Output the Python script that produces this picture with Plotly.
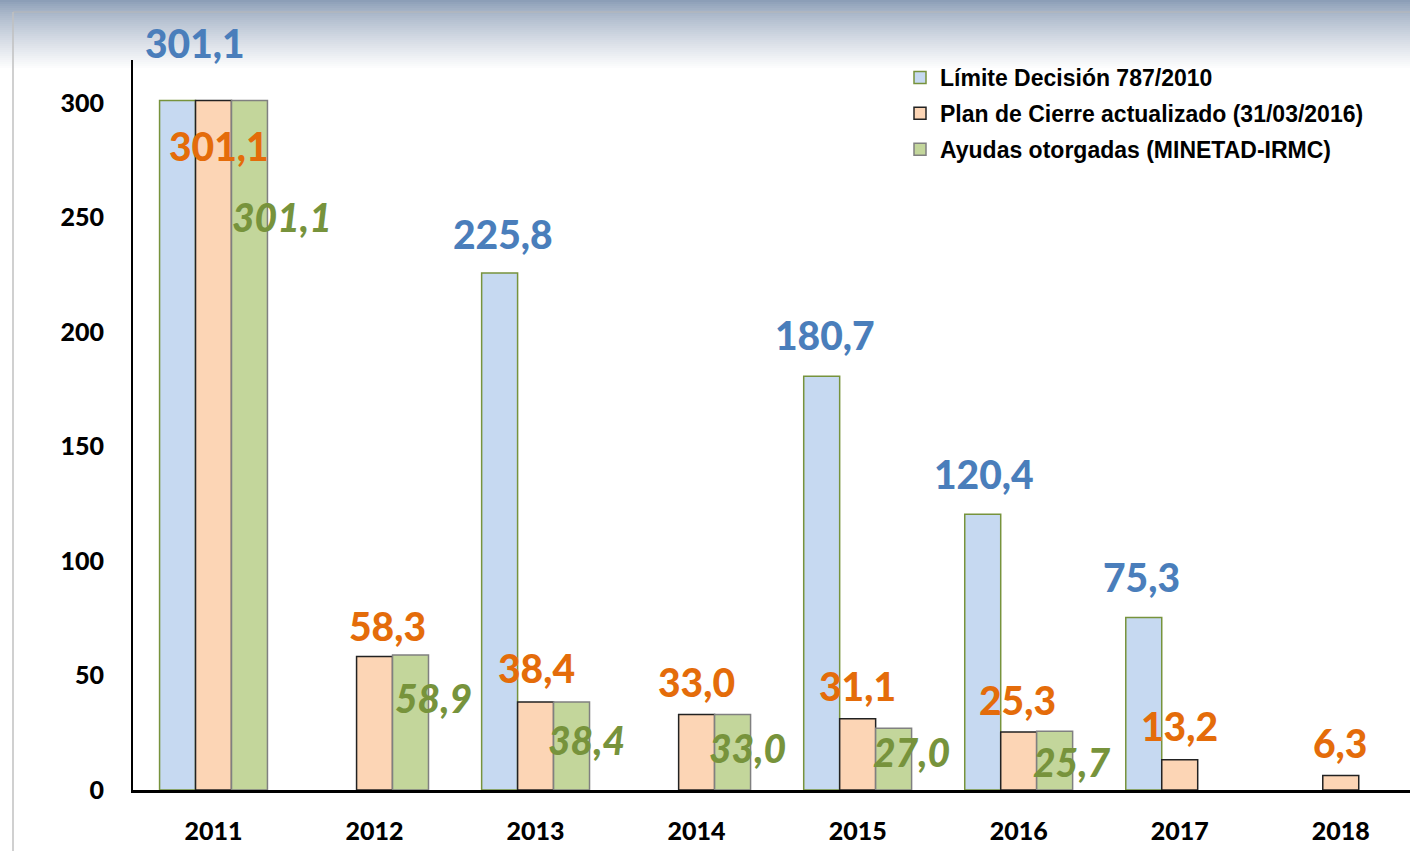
import plotly.graph_objects as go

years = ["2011", "2012", "2013", "2014", "2015", "2016", "2017", "2018"]
limite = [301.1, None, 225.8, None, 180.7, 120.4, 75.3, None]
plan = [301.1, 58.3, 38.4, 33.0, 31.1, 25.3, 13.2, 6.3]
ayudas = [301.1, 58.9, 38.4, 33.0, 27.0, 25.7, None, None]

names = ["Límite Decisión 787/2010",
         "Plan de Cierre actualizado (31/03/2016)",
         "Ayudas otorgadas (MINETAD-IRMC)"]

# label offsets (pixels) relative to bar top / bar center
blue_off = [(17, 57), None, (3, 39), None, (3, 41), (1, 40), (-2, 41), None]
orange_off = [(5, -46), (13, 30), (1, 34), (0, 32), (0, 33), (-1, 32), (0, 34), (-1, 33)]
green_off = [(32, -117), (23, -43), (15, -38), (15, -34), (18, -24), (17, -31), None, None]

W, H = 1410, 851
L, R, T, B = 133, 0, 60, 61
pw, ph = W - L - R, H - T - B

fig = go.Figure()
fig.add_bar(x=years, y=limite, name=names[0], legendgroup="a",
            marker=dict(color="#c6d9f1", line=dict(color="#77933c", width=1.5)))
fig.add_bar(x=years, y=plan, name=names[1], legendgroup="b",
            marker=dict(color="#fcd5b5", line=dict(color="#222222", width=1.5)))
fig.add_bar(x=years, y=ayudas, name=names[2], legendgroup="c",
            marker=dict(color="#c3d69b", line=dict(color="#808080", width=1.5)))

def fmt(v):
    return f"{v:.1f}".replace(".", ",")

bar_px = 36
anns = []
for series, offs, color, dx, italic in [
    (limite, blue_off, "#4a7ebb", -bar_px, False),
    (plan, orange_off, "#e46c0a", 0, False),
    (ayudas, green_off, "#77933c", bar_px, True),
]:
    for i, (v, o) in enumerate(zip(series, offs)):
        if v is None or o is None:
            continue
        anns.append(dict(
            x=i, y=v, xref="x", yref="y", text=fmt(v), showarrow=False,
            xanchor="center", yanchor="middle",
            xshift=dx + o[0], yshift=o[1],
            font=dict(family="Lato", size=39, color=color,
                      style="italic" if italic else "normal", weight=900),
        ))

# top gradient background
shapes = []
n = 35
top_px = 70
c0 = (140, 158, 183)
c1 = (255, 255, 255)
for i in range(n):
    y0p = i * top_px / n
    y1p = (i + 1) * top_px / n + 1.5
    t = (i / (n - 1)) ** 0.8
    c = tuple(int(c0[k] + (c1[k] - c0[k]) * t) for k in range(3))
    shapes.append(dict(type="rect", xref="paper", yref="paper", layer="below",
                       x0=-L / pw, x1=1.0,
                       y0=1 + (T - y1p) / ph, y1=1 + (T - y0p) / ph,
                       line=dict(width=0), fillcolor=f"rgb{c}"))
# thin frame lines
shapes.append(dict(type="line", xref="paper", yref="paper", layer="below",
                   x0=(13 - L) / pw, x1=1.0, y0=1 + (T - 12) / ph, y1=1 + (T - 12) / ph,
                   line=dict(color="#b8b8b8", width=1)))
shapes.append(dict(type="line", xref="paper", yref="paper", layer="below",
                   x0=(13 - L) / pw, x1=(13 - L) / pw, y0=-B / ph, y1=1 + (T - 12) / ph,
                   line=dict(color="#c0c0c0", width=1.5)))

fig.update_layout(
    width=W, height=H,
    margin=dict(l=L, r=R, t=T, b=B),
    paper_bgcolor="white", plot_bgcolor="rgba(0,0,0,0)",
    barmode="group", bargap=0.33, bargroupgap=0,
    showlegend=True,
    legend=dict(x=(900 - L) / pw, y=1 + (T - 56) / ph, xanchor="left", yanchor="top",
                bgcolor="rgba(0,0,0,0)", font=dict(family="Liberation Sans", size=23,
                color="black", weight="bold"), itemwidth=30,
                traceorder="grouped", tracegroupgap=3),
    annotations=anns,
    shapes=shapes,
    font=dict(family="Lato"),
)
fig.update_xaxes(type="category", range=[-0.5, 7.43], showline=True, linecolor="black", linewidth=3,
                 showgrid=False, ticks="", ticklabelstandoff=17,
                 tickfont=dict(family="Lato", size=25, color="black", weight=900))
fig.update_yaxes(range=[0, ph / 2.29], showline=True, linecolor="black", linewidth=2,
                 showgrid=False, zeroline=False, ticks="", tickvals=[0, 50, 100, 150, 200, 250, 300],
                 ticklabelstandoff=22,
                 tickfont=dict(family="Lato", size=25, color="black", weight=900))

fig.write_html("out.html", config={"displayModeBar": False},
               post_script="document.body.style.margin='0';document.body.style.overflow='hidden';")
